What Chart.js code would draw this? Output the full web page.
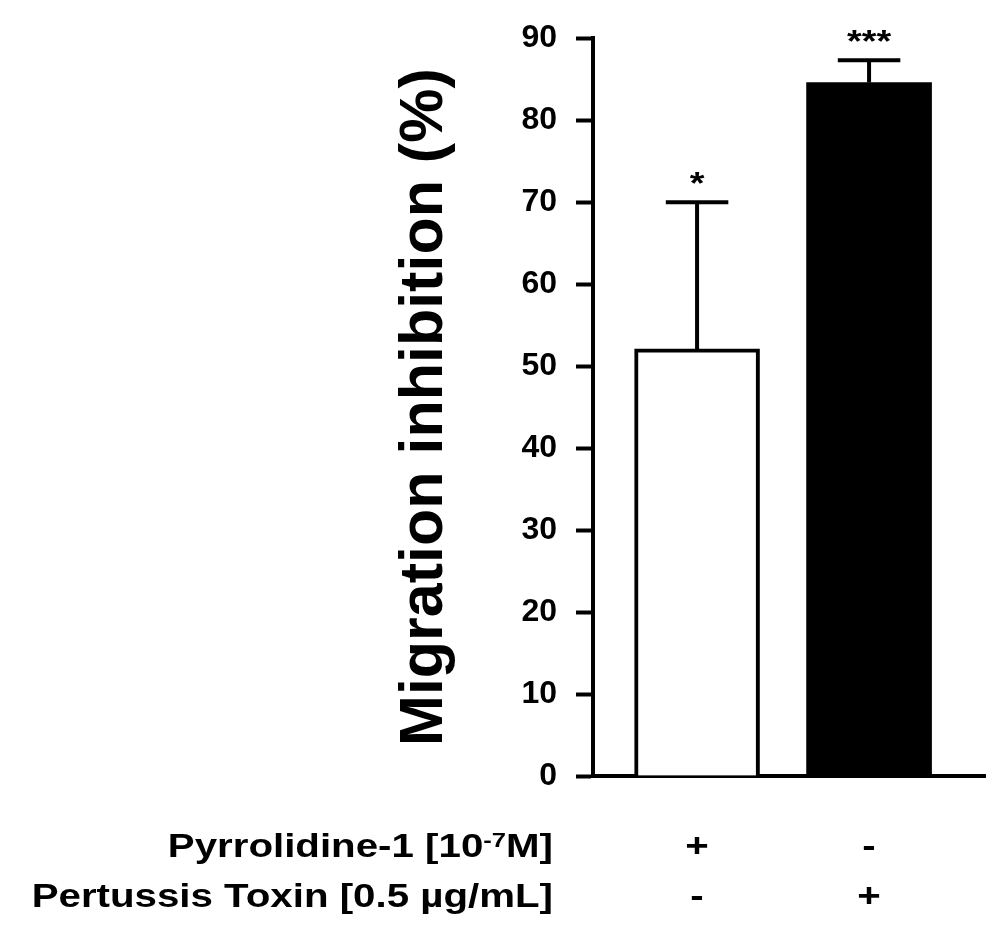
<!DOCTYPE html>
<html>
<head>
<meta charset="utf-8">
<script src="https://cdn.jsdelivr.net/npm/chart.js@4.4.1/dist/chart.umd.min.js"></script>
<style>
  body { margin: 0; background: #fff; }
</style>
</head>
<body>
<canvas id="myChart" width="1004" height="943"></canvas>
<script>
// Bar positions on the x scale and the mean inhibition (%)
var groups = [1, 2];
var inhibition = [52.1, 84.6];
// Upper error bars (only the + side is drawn)
var errors = [17.9, 2.7];
var stars = ['*', '***'];
var yTicks = [0, 10, 20, 30, 40, 50, 60, 70, 80, 90];
// Treatment table under the bars
var pyrrolidine = ['+', '-'];
var pertussis = ['-', '+'];

var FONT = '"Liberation Sans", Arial, sans-serif';
var STRETCH = 1.22; // the figure's text is a bit wider than plain Arial

function stretchedText(ctx, text, x, y, size, align) {
  ctx.save();
  ctx.translate(x, y);
  ctx.scale(STRETCH, 1);
  ctx.font = 'bold ' + size + 'px ' + FONT;
  ctx.fillStyle = '#000';
  ctx.textAlign = align;
  ctx.textBaseline = 'alphabetic';
  ctx.fillText(text, 0, 0);
  ctx.restore();
}

// error bars + significance stars
var errorBars = {
  id: 'errorBars',
  afterDatasetsDraw: function (chart) {
    var ctx = chart.ctx;
    var y = chart.scales.y;
    var bars = chart.getDatasetMeta(0).data;
    ctx.save();
    ctx.strokeStyle = '#000';
    ctx.lineWidth = 4;
    bars.forEach(function (bar, i) {
      var top = y.getPixelForValue(inhibition[i] + errors[i]);
      var half = bar.width / 4;
      ctx.beginPath();
      ctx.moveTo(bar.x, bar.y);
      ctx.lineTo(bar.x, top);
      ctx.moveTo(bar.x - half, top);
      ctx.lineTo(bar.x + half, top);
      ctx.stroke();
      stretchedText(ctx, stars[i], bar.x, top - 8, 31, 'center');
    });
    ctx.restore();
  }
};

// rows of +/- with their labels
var treatments = {
  id: 'treatments',
  afterDraw: function (chart) {
    var ctx = chart.ctx;
    var bars = chart.getDatasetMeta(0).data;
    var right = 553;
    var row1 = 857, row2 = 907;

    ctx.save();
    ctx.font = 'bold 33px ' + FONT;
    var wEnd = ctx.measureText('M]').width;
    ctx.font = 'bold 21px ' + FONT;
    var wSup = ctx.measureText('-7').width;
    ctx.restore();

    stretchedText(ctx, 'M]', right, row1, 33, 'right');
    stretchedText(ctx, '-7', right - wEnd * STRETCH, row1 - 10, 21, 'right');
    stretchedText(ctx, 'Pyrrolidine-1 [10', right - (wEnd + wSup) * STRETCH, row1, 33, 'right');
    stretchedText(ctx, 'Pertussis Toxin [0.5 \u00b5g/mL]', right, row2, 33, 'right');

    bars.forEach(function (bar, i) {
      stretchedText(ctx, pyrrolidine[i], bar.x, row1, 33, 'center');
      stretchedText(ctx, pertussis[i], bar.x, row2, 33, 'center');
    });
  }
};

var ctx = document.getElementById('myChart');
var myChart = new Chart(ctx, {
  type: 'bar',
  data: {
    datasets: [
      {
        data: groups.map(function (g, i) { return { x: g, y: inhibition[i] }; }),
        backgroundColor: ['#ffffff', '#000000'],
        borderColor: '#000000',
        borderWidth: [4, 0],
        barThickness: 125
      }
    ]
  },
  options: {
    responsive: false,
    animation: false,
    devicePixelRatio: 1,
    layout: { padding: { left: 0, top: 38, right: 19, bottom: 167 } },
    plugins: {
      legend: { display: false },
      tooltip: { enabled: false }
    },
    scales: {
      x: {
        type: 'linear',
        min: 0.395,
        max: 2.674,
        offset: false,
        afterFit: function (scale) { scale.height = 0; },
        ticks: { display: false },
        grid: { display: false, drawTicks: false },
        border: { display: true, color: '#000', width: 4 }
      },
      y: {
        min: 0,
        max: 90,
        afterBuildTicks: function (scale) {
          scale.ticks = yTicks.map(function (v) { return { value: v }; });
        },
        afterFit: function (scale) { scale.width = 593; },
        border: { display: true, color: '#000', width: 4 },
        grid: { drawOnChartArea: false, drawTicks: true, tickLength: 17, tickWidth: 4, tickColor: '#000' },
        ticks: { color: '#000', padding: 19, font: { family: FONT, size: 32, weight: 'bold' } },
        title: {
          display: true,
          text: 'Migration inhibition (%)',
          color: '#000',
          font: { family: FONT, size: 61, weight: 'bold' },
          padding: { top: 389, bottom: 0 }
        }
      }
    }
  },
  plugins: [errorBars, treatments]
});
</script>
</body>
</html>
